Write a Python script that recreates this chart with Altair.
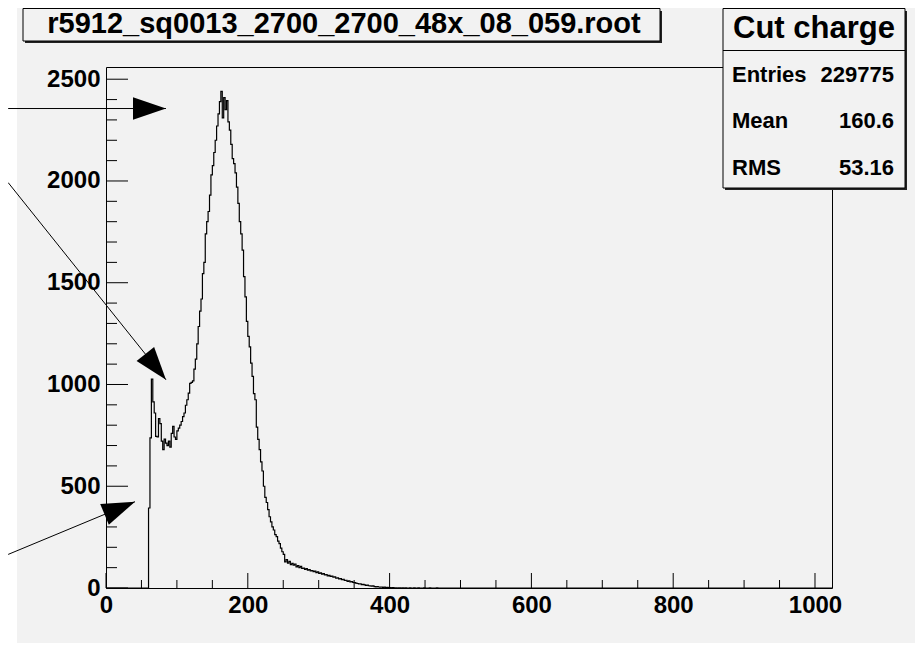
import math
import altair as alt
import pandas as pd

# ---------------- data ----------------
TITLE = "r5912_sq0013_2700_2700_48x_08_059.root"
STATS_TITLE = "Cut charge"
stat_names = ["Entries", "Mean", "RMS"]
stat_values = ["229775", "160.6", "53.16"]

bin_start = 60
bin_width = 2
counts = [
    393, 738, 1026, 915, 860, 745, 742, 832, 808, 722,      # 60-78
    680, 732, 712, 700, 722, 692, 760, 794, 742, 730,       # 80-98
    772, 786, 800, 818, 842, 860, 898, 925, 958, 1005,      # 100-118
    1010, 1018, 1075, 1125, 1200, 1285, 1360, 1420, 1545, 1600,  # 120-138
    1740, 1800, 1850, 1930, 2030, 2075, 2140, 2200, 2270, 2330,  # 140-158
    2390, 2440, 2310, 2410, 2350, 2395, 2290, 2250, 2180, 2110,  # 160-178
    2085, 2040, 1970, 1890, 1800, 1740, 1660, 1530, 1430, 1310,  # 180-198
    1236, 1185, 1105, 1040, 955, 925, 790, 730, 680, 620,   # 200-218
    575, 500, 445, 420, 385, 350, 325, 300, 285, 262,       # 220-238
    252, 230, 218, 196, 178, 165, 128, 140, 122, 131,       # 240-258
    115, 121, 112, 118, 104, 110, 100, 106, 96, 98,         # 260-278
    92, 95, 88, 90, 84, 86, 80, 83, 76, 79,                 # 280-298
    72, 74, 68, 71, 64, 66, 60, 62, 57, 58,                 # 300-318
    53, 55, 48, 50, 45, 46, 41, 43, 37, 38,                 # 320-338
    33, 35, 30, 31, 27, 26, 24, 22, 20, 21,                 # 340-358
    17, 18, 15, 13, 14, 11, 10, 9, 10, 7,                   # 360-378
    6, 7, 5, 4, 5, 3, 4, 2, 3, 2,                           # 380-398
    2, 1, 2, 1, 1, 0, 1, 1, 0, 1,                           # 400-418
    0, 1, 0, 0, 1, 0, 0, 1, 0, 0,                           # 420-438
    1, 0, 0, 0, 1, 0, 0, 0, 1, 0,                           # 440-458
    0, 0, 0, 1,                                             # 460-466
]

X_DOMAIN = [0, 1024]
Y_DOMAIN = [0, 2560]

x_major = [0, 200, 400, 600, 800, 1000]
x_minor = [50, 100, 150, 250, 300, 350, 450, 500, 550,
           650, 700, 750, 850, 900, 950]
y_major = [0, 500, 1000, 1500, 2000, 2500]
y_minor = [100, 200, 300, 400, 600, 700, 800, 900, 1100, 1200, 1300, 1400,
           1600, 1700, 1800, 1900, 2100, 2200, 2300, 2400]

# annotation arrows (data units): tail -> tip
arrow_tail_x = [-138, -138, -138]
arrow_tail_y = [2356, 1992, 165]
arrow_tip_x = [84.6, 84.6, 40.9]
arrow_tip_y = [2356, 1023, 424]

# ---------------- layout ----------------
W, H = 726, 521
FONT = "Liberation Sans"
GREY = "#f2f2f2"

xs = [0] + [bin_start + i * bin_width for i in range(len(counts))]
end = bin_start + len(counts) * bin_width
xs += [end, X_DOMAIN[1]]
ys = [0] + counts + [0, 0]
hist_df = pd.DataFrame({"x": xs, "count": ys})

px_x = W / (X_DOMAIN[1] - X_DOMAIN[0])
px_y = H / (Y_DOMAIN[1] - Y_DOMAIN[0])
angles = []
for tx, ty, hx, hy in zip(arrow_tail_x, arrow_tail_y, arrow_tip_x, arrow_tip_y):
    a = math.degrees(math.atan2(-(hy - ty) * px_y, (hx - tx) * px_x)) % 360
    angles.append(a)
arrow_df = pd.DataFrame({"tx": arrow_tail_x, "ty": arrow_tail_y,
                         "hx": arrow_tip_x, "hy": arrow_tip_y, "angle": angles})

one = pd.DataFrame({"k": [0]})

x_scale = alt.Scale(domain=X_DOMAIN, nice=False, zero=False)
y_scale = alt.Scale(domain=Y_DOMAIN, nice=False, zero=False)
x_axis = alt.Axis(values=x_major, title=None, ticks=False, tickSize=0, domain=False,
                  grid=False, labelFlush=False, labelPadding=5, zindex=1, format="d")
y_axis = alt.Axis(values=y_major, title=None, ticks=False, tickSize=0, domain=False,
                  grid=False, labelFlush=False, labelPadding=6, zindex=1, format="d")

bg = alt.Chart(one).mark_rect(color=GREY).encode(
    x=alt.value(-89), x2=alt.value(812), y=alt.value(-59), y2=alt.value(584))

ymaj = alt.Chart(pd.DataFrame({"v": y_major})).mark_rule(color="black", strokeWidth=1).encode(
    y=alt.Y("v:Q", scale=y_scale, axis=y_axis), x=alt.value(0), x2=alt.value(22))
ymin = alt.Chart(pd.DataFrame({"v": y_minor})).mark_rule(color="black", strokeWidth=1).encode(
    y=alt.Y("v:Q", scale=y_scale, axis=y_axis), x=alt.value(0), x2=alt.value(11))
xmaj = alt.Chart(pd.DataFrame({"v": x_major})).mark_rule(color="black", strokeWidth=1).encode(
    x=alt.X("v:Q", scale=x_scale, axis=x_axis), y=alt.value(H), y2=alt.value(H - 15))
xmin = alt.Chart(pd.DataFrame({"v": x_minor})).mark_rule(color="black", strokeWidth=1).encode(
    x=alt.X("v:Q", scale=x_scale, axis=x_axis), y=alt.value(H), y2=alt.value(H - 8))

hist = alt.Chart(hist_df).mark_line(interpolate="step-after", color="black", strokeWidth=1.2).encode(
    x=alt.X("x:Q", scale=x_scale, axis=x_axis),
    y=alt.Y("count:Q", scale=y_scale, axis=y_axis),
)

frame = alt.Chart(one).mark_rect(filled=False, color="black", strokeWidth=1).encode(
    x=alt.value(0.5), x2=alt.value(W + 0.5), y=alt.value(0.5), y2=alt.value(H + 0.5))

arrow_lines = alt.Chart(arrow_df).mark_rule(color="black", strokeWidth=1).encode(
    x=alt.X("tx:Q", scale=x_scale, axis=x_axis), y=alt.Y("ty:Q", scale=y_scale, axis=y_axis),
    x2="hx:Q", y2="hy:Q")
arrow_heads = alt.Chart(arrow_df).mark_point(
    shape="M0,0L-1,-0.34L-1,0.34Z", filled=True, color="black", opacity=1, size=4356
).encode(
    x=alt.X("hx:Q", scale=x_scale, axis=x_axis), y=alt.Y("hy:Q", scale=y_scale, axis=y_axis),
    angle=alt.Angle("angle:Q", scale=None))

# title box (pixel offsets relative to plot area)
t_shadow = alt.Chart(one).mark_rect(color="#222222").encode(
    x=alt.value(-81), x2=alt.value(556), y=alt.value(-56), y2=alt.value(-24))
t_box = alt.Chart(one).mark_rect(color=GREY, stroke="black", strokeWidth=1).encode(
    x=alt.value(-83), x2=alt.value(554), y=alt.value(-58.5), y2=alt.value(-26))
t_text = alt.Chart(one).mark_text(
    text=TITLE, font=FONT, fontSize=29, fontWeight="bold", color="black",
    align="center", baseline="alphabetic").encode(x=alt.value(238), y=alt.value(-34))

# stats box
s_shadow = alt.Chart(one).mark_rect(color="#222222").encode(
    x=alt.value(619), x2=alt.value(801), y=alt.value(-56), y2=alt.value(123))
s_box = alt.Chart(one).mark_rect(color=GREY, stroke="black", strokeWidth=1).encode(
    x=alt.value(617), x2=alt.value(799), y=alt.value(-58.5), y2=alt.value(121))
s_sep = alt.Chart(one).mark_rule(color="black", strokeWidth=1).encode(
    x=alt.value(617), x2=alt.value(799), y=alt.value(-16.5))
s_title = alt.Chart(one).mark_text(
    text=STATS_TITLE, font=FONT, fontSize=31, fontWeight="bold", color="black",
    align="center", baseline="alphabetic").encode(x=alt.value(708), y=alt.value(-29))

row_baselines = [14.7, 61.3, 108]
stat_layers = []
for name, val, yb in zip(stat_names, stat_values, row_baselines):
    stat_layers.append(alt.Chart(one).mark_text(
        text=name, font=FONT, fontSize=22, fontWeight="bold", color="black",
        align="left", baseline="alphabetic").encode(x=alt.value(626), y=alt.value(yb)))
    stat_layers.append(alt.Chart(one).mark_text(
        text=val, font=FONT, fontSize=22, fontWeight="bold", color="black",
        align="right", baseline="alphabetic").encode(x=alt.value(788), y=alt.value(yb)))

chart = alt.layer(
    bg, ymaj, ymin, xmaj, xmin, hist, frame, arrow_lines, arrow_heads,
    t_shadow, t_box, t_text, s_shadow, s_box, s_sep, s_title, *stat_layers
).properties(
    width=W, height=H,
    autosize=alt.AutoSizeParams(type="none"),
    padding={"left": 98, "top": 59, "right": 83, "bottom": 55},
    background="white",
).configure_view(stroke="transparent").configure_axis(
    labelFont=FONT, labelFontSize=24, labelFontWeight="bold", labelColor="black"
)

chart.save("out.html", embed_options={"renderer": "svg", "actions": False})
